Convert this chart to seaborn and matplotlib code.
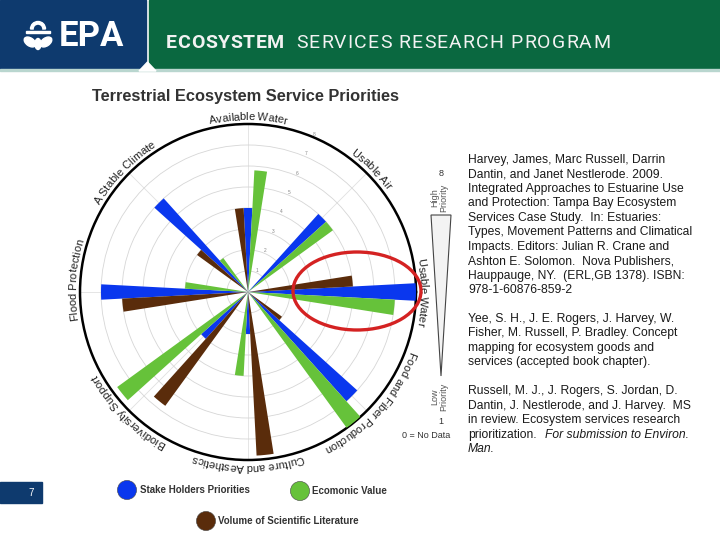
import numpy as np
import pandas as pd
import seaborn as sns
import matplotlib
matplotlib.use("Agg")
import matplotlib.pyplot as plt
from matplotlib.patches import Rectangle, Ellipse, Polygon, Wedge
from matplotlib.textpath import TextToPath
from matplotlib.font_manager import FontProperties

# ---------------- data ----------------
categories = ["Available Water", "Usable Air", "Usable Water",
              "Food and Fiber Production", "Culture and Aesthetics",
              "Biodiversity Support", "Flood Protection", "A Stable Climate"]
cat_angles = [90, 45, 0, 315, 270, 225, 180, 135]
label_angles = [90, 45, 0, 318, 270, 225, 176, 136]

stakeholders = [4, 5, 8, 7, 2, 3, 7, 6]
economic = [5.8, 5, 7, 8, 4, 7.7, 3, 2]
literature = [4, 0, 5, 2, 7.8, 6.7, 6, 3]

series_names = ["Stake Holders Priorities", "Ecomonic Value",
                "Volume of Scientific Literature"]
series_values = [stakeholders, economic, literature]
ring_ticks = [1, 2, 3, 4, 5, 6, 7, 8]

# ---------------- styles ----------------
colors = {"Stake Holders Priorities": "#0a37ee",
          "Ecomonic Value": "#66c23a",
          "Volume of Scientific Literature": "#5a2c0b"}
offsets = {"Stake Holders Priorities": 0,
           "Ecomonic Value": -6,
           "Volume of Scientific Literature": 6}
bar_width_deg = 6

rows = []
for name, vals in zip(series_names, series_values):
    for cat, ang, v in zip(categories, cat_angles, vals):
        rows.append({"category": cat, "series": name, "value": v,
                     "theta": np.deg2rad((ang + offsets[name]) % 360)})
df = pd.DataFrame(rows)

sns.set_theme(style="white")
plt.rcParams["font.family"] = ["Liberation Sans", "DejaVu Sans"]

W, H = 720, 540
fig = plt.figure(figsize=(7.2, 5.4), dpi=100)
fig.patch.set_facecolor("white")

# ---------------- polar chart ----------------
cx, cy, R = 248, 292, 168
ax = fig.add_axes([(cx - R) / W, 1 - (cy + R) / H, 2 * R / W, 2 * R / H],
                  projection="polar")
for name in series_names:
    sub = df[df.series == name]
    ax.bar(sub.theta, sub.value, width=np.deg2rad(bar_width_deg), bottom=0,
           color=colors[name], edgecolor="none", align="center", zorder=3)
ax.set_xticks(np.deg2rad(cat_angles))
ax.set_xticklabels([])
ax.set_thetalim(0, 2 * np.pi)
ax.set_yticks(ring_ticks)
ax.set_yticklabels([str(t) for t in ring_ticks], fontsize=3.5, color="#888888")
ax.set_rlabel_position(67.5)
ax.set_ylim(0, 8)
ax.yaxis.grid(True, color="#d6d6d6", lw=0.6)
ax.xaxis.grid(True, color="#e0e0e0", lw=0.6)
ax.spines["polar"].set_color("black")
ax.spines["polar"].set_linewidth(1.8)
ax.tick_params(pad=0)

ttp = TextToPath()


def twidth(s, prop):
    if s == "":
        return 0.0
    return ttp.get_text_width_height_descent(s, prop, ismath=False)[0]


def arc_text(text, center_deg, r_px, fontsize, color="#222222"):
    prop = FontProperties(family="Liberation Sans", size=fontsize)
    total = twidth(text, prop)
    r_data = r_px / (R / 8.0)
    for i, ch in enumerate(text):
        if ch == " ":
            continue
        s = twidth(text[:i + 1], prop) - twidth(ch, prop) / 2 - total / 2
        dtheta = s * 100 / 72 / r_px
        theta = np.deg2rad(center_deg) - dtheta
        ax.text(theta, r_data, ch, rotation=np.rad2deg(theta) - 90,
                rotation_mode="anchor", ha="center", va="baseline",
                fontproperties=prop, color=color, clip_on=False, zorder=6)


for cat, la in zip(categories, label_angles):
    arc_text(cat, la, 172, 8)

# ---------------- overlay (slide decorations) ----------------
axo = fig.add_axes([0, 0, 1, 1], zorder=5)
axo.patch.set_alpha(0)

# legend dots through seaborn
leg_df = pd.DataFrame({"series": series_names,
                       "px": [127, 300, 206], "py": [490, 491, 521]})
sns.scatterplot(data=leg_df, x="px", y="py", hue="series",
                palette=colors, s=190, edgecolor="#444444", linewidth=0.4,
                legend=False, ax=axo, zorder=6)
for (_, r), tx in zip(leg_df.iterrows(), [140, 312, 218]):
    axo.text(tx, r.py, r.series, fontsize=7, fontweight="bold",
             color="#333333", va="center", ha="left")

axo.set_xlim(0, W)
axo.set_ylim(H, 0)
axo.axis("off")

# header
axo.add_patch(Rectangle((0, 0), 146, 69, color="#0e3a6e", zorder=1))
axo.add_patch(Rectangle((149, 0), W - 149, 69, color="#0a6840", zorder=1))
axo.add_patch(Rectangle((0, 69), W, 2, color="#b9d6cf", zorder=1))
axo.add_patch(Polygon([[139, 71], [147.5, 62], [156, 71]], closed=True,
                      color="white", zorder=2))


def tracked(x0, x1, y, text, prop, color="white"):
    nat = twidth(text, prop)
    n = len(text)
    track = ((x1 - x0) - nat * 100 / 72) / max(n - 1, 1)
    for i, ch in enumerate(text):
        if ch == " ":
            continue
        left = (twidth(text[:i + 1], prop) - twidth(ch, prop)) * 100 / 72
        axo.text(x0 + left + i * track, y, ch, fontproperties=prop,
                 color=color, ha="left", va="center", zorder=3)


tracked(166, 284, 43, "ECOSYSTEM",
        FontProperties(family="Roboto", weight="bold", size=14), "#f2f2f2")
tracked(296, 610, 43, "SERVICES RESEARCH PROGRAM",
        FontProperties(family="Roboto", size=14), "#f2f2f2")
axo.text(91, 37, "EPA", fontproperties=FontProperties(family="Roboto",
         weight="bold", size=25), color="white", ha="center", va="center",
         zorder=3)

# EPA icon (simple flower)
axo.add_patch(Wedge((38, 29), 7.5, 180, 360, width=2.6, color="white", zorder=3))
axo.add_patch(Rectangle((26, 30.5), 24, 2.4, color="white", zorder=3))
axo.add_patch(Ellipse((30, 42), 13, 8, angle=35, color="white", zorder=3))
axo.add_patch(Ellipse((46, 42), 13, 8, angle=-35, color="white", zorder=3))
axo.add_patch(Ellipse((38, 44), 6, 11, color="white", zorder=3))

# title
axo.text(92, 97, "Terrestrial Ecosystem Service Priorities", fontsize=11.8,
         fontweight="bold", color="#333333", va="center", ha="left")

# highlight ellipse
axo.add_patch(Ellipse((357, 291), 128, 78, fill=False, edgecolor="#d42222",
                      lw=2.4, zorder=7))

# priority scale
axo.text(441, 173, "8", fontsize=6.5, color="#333333", ha="center", va="center")
axo.text(439, 198, "High\nPriority", fontsize=6.5, rotation=90, color="#555555",
         ha="center", va="center", multialignment="center", linespacing=1.0)
axo.add_patch(Polygon([[431, 215], [451, 215], [441, 376]], closed=True,
                      facecolor="#f3f3f3", edgecolor="#444444", lw=0.8))
axo.text(439, 397, "Low\nPriority", fontsize=6.5, rotation=90, color="#555555",
         ha="center", va="center", multialignment="center", linespacing=1.0)
axo.text(441, 421, "1", fontsize=6.5, color="#333333", ha="center", va="center")
axo.text(426, 436, "0 = No Data", fontsize=6.5, color="#333333",
         ha="center", va="center")

# page number
axo.add_patch(Rectangle((0, 482), 42, 21, color="#0e3a6e"))
axo.text(31, 492.5, "7", fontsize=7, color="white", ha="center", va="center")

# references
ref_lines = [
    "Harvey, James, Marc Russell, Darrin",
    "Dantin, and Janet Nestlerode. 2009.",
    "Integrated Approaches to Estuarine Use",
    "and Protection: Tampa Bay Ecosystem",
    "Services Case Study.  In: Estuaries:",
    "Types, Movement Patterns and Climatical",
    "Impacts. Editors: Julian R. Crane and",
    "Ashton E. Solomon.  Nova Publishers,",
    "Hauppauge, NY.  (ERL,GB 1378). ISBN:",
    "978-1-60876-859-2",
    "",
    "Yee, S. H., J. E. Rogers, J. Harvey, W.",
    "Fisher, M. Russell, P. Bradley. Concept",
    "mapping for ecosystem goods and",
    "services (accepted book chapter).",
    "",
    "Russell, M. J., J. Rogers, S. Jordan, D.",
    "Dantin, J. Nestlerode, and J. Harvey.  MS",
    "in review. Ecosystem services research",
]
ref_fs = 8.7
y0, dy = 160, 14.45
for i, line in enumerate(ref_lines):
    axo.text(468, y0 + i * dy, line, fontsize=ref_fs, color="#1a1a1a",
             ha="left", va="center")
yl = y0 + len(ref_lines) * dy
reg = "prioritization."
prop_r = FontProperties(family="Liberation Sans", size=ref_fs)
axo.text(468, yl, reg, fontsize=ref_fs, color="#1a1a1a", ha="left", va="center")
xi = 468 + twidth(reg, prop_r) * 100 / 72 + 2 * 0.278 * ref_fs * 100 / 72 + 2
axo.text(xi, yl, "For submission to Environ.", fontsize=ref_fs,
         style="italic", color="#1a1a1a", ha="left", va="center")
axo.text(468, yl + dy, "Man.", fontsize=ref_fs, style="italic",
         color="#1a1a1a", ha="left", va="center")

fig.savefig("out.png", dpi=100, facecolor="white")
